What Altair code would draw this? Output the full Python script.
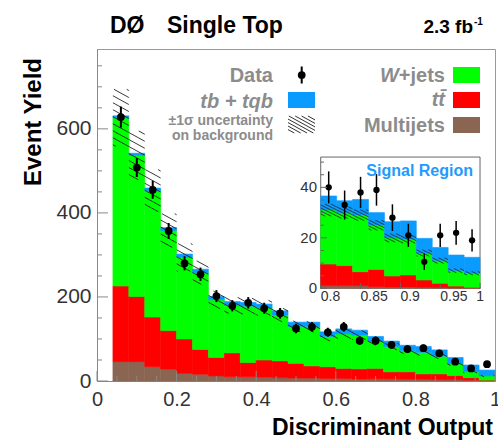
import math
import altair as alt
import pandas as pd

# ---------------- data ----------------
# main histogram: bin edges (discriminant output)
edges = [0.04, 0.08, 0.12, 0.16, 0.20, 0.24, 0.28, 0.32, 0.36, 0.40, 0.44, 0.48, 0.52,
         0.56, 0.60, 0.64, 0.68, 0.72, 0.76, 0.80, 0.84, 0.88, 0.92, 0.96, 1.00]
multijets = [46, 46, 34, 28, 18, 16, 12, 10, 10, 9, 8, 7, 7, 6, 6, 5, 5, 5, 4, 4, 3, 3, 2, 1]
ttbar = [180, 155, 118, 92, 82, 59, 44, 57, 34, 41, 40, 35, 29, 28, 24, 24, 25, 17, 18, 13, 14, 10, 6, 1]
wjets = [400, 336, 301, 238, 194, 183, 137, 113, 134, 124, 109, 88, 93, 72, 82, 80, 64, 60, 50, 51, 42, 28, 14, 10]
signal = [5, 5, 6, 7, 8, 8, 8, 9, 9, 9, 10, 10, 11, 11, 12, 12, 12, 13, 13, 14, 15, 15, 16, 14]
bkg_unc = [68, 58, 50, 40, 33, 28, 21, 19, 19, 18, 16, 13, 13, 11, 11, 11, 9, 8, 7, 7, 6, 4, 3, 2]
data = [628, 508, 455, 357, 280, 254, 202, 179, 186, 173, 161, 125, 129, 116, 129, 96, 96, 86, 76, 78, 66, 46, 30, 40]

# inset: signal region
in_edges = [0.80, 0.82, 0.84, 0.86, 0.88, 0.90, 0.92, 0.94, 0.96, 0.98, 1.00]
in_multijets = [1.0, 1.0, 1.0, 0.6, 0.5, 0.5, 0.4, 0.3, 0.2, 0.2]
in_ttbar = [8.6, 8.0, 5.6, 6.9, 4.4, 4.8, 2.9, 1.7, 0.7, 0.2]
in_wjets = [21.4, 21.0, 22.4, 17.5, 15.1, 14.2, 10.7, 9.0, 6.1, 5.6]
in_signal = [5.6, 4.7, 6.2, 5.0, 6.4, 7.2, 5.8, 5.2, 6.2, 6.3]
in_unc = [2.4, 2.3, 2.2, 2.0, 1.7, 1.6, 1.3, 1.1, 0.8, 0.7]
in_data = [40, 33, 38, 39, 28, 21, 10.5, 21, 22, 19]

components = ["Multijets", "tt̄", "W+jets", "tb+tqb"]
comp_colors = ["#8a6652", "#ff0000", "#00ff00", "#0a9bff"]

x_ticks = [0, 0.2, 0.4, 0.6, 0.8, 1.0]
x_minor = [0.05, 0.1, 0.15, 0.25, 0.3, 0.35, 0.45, 0.5, 0.55, 0.65, 0.7, 0.75, 0.85, 0.9, 0.95]
y_ticks = [0, 200, 400, 600]
y_minor = [50, 100, 150, 250, 300, 350, 450, 500, 550, 650, 700, 750]
in_y_ticks = [0, 20, 40]
in_y_minor = [5, 10, 15, 25, 30, 35, 45, 50]
in_x_ticks = [0.8, 0.85, 0.9, 0.95]
in_x_last = [1.0]

# ---------------- layout ----------------
W, H = 398, 332
Y_MAX = 790
XA, XB = 0.5191, 1.0188      # inset x scale over the full plot width
YA, YB = -36.7, 94.8         # inset y scale over the full plot height
FONT = "Liberation Sans"
GREY = "#8c8c8c"


def stack_df(e, comps):
    rows = []
    for i in range(len(e) - 1):
        base = 0.0
        for name, vals in comps:
            rows.append(dict(lo=e[i], hi=e[i + 1], y0=base, y1=base + vals[i], comp=name))
            base += vals[i]
    return pd.DataFrame(rows)


def hatch_rect(U0, U1, W0, W1, spacing, slope):
    segs = []
    kmin = math.ceil((W0 + slope * U0) / spacing)
    kmax = math.floor((W1 + slope * U1) / spacing)
    for k in range(kmin, kmax + 1):
        c = k * spacing
        ua = max(U0, (c - W1) / slope)
        ub = min(U1, (c - W0) / slope)
        if ub - ua > 0.8:
            segs.append((ua, c - slope * ua, ub, c - slope * ub))
    return segs


def hatch_df(e, bkg, unc, sx, sy, spacing, slope):
    rows = []
    for i in range(len(bkg)):
        for (ua, wa, ub, wb) in hatch_rect(e[i] * sx, e[i + 1] * sx,
                                           (bkg[i] - unc[i]) * sy, (bkg[i] + unc[i]) * sy,
                                           spacing, slope):
            rows.append(dict(x=ua / sx, x2=ub / sx, y=wa / sy, y2=wb / sy))
    return pd.DataFrame(rows)


def points_df(e, d):
    return pd.DataFrame(dict(c=[(e[i] + e[i + 1]) / 2 for i in range(len(d))], v=d,
                             lo=[max(0, v - math.sqrt(v)) for v in d],
                             hi=[v + math.sqrt(v) for v in d]))


def txt(s, x, y, size, weight="bold", style="normal", color=GREY, align="right",
        baseline="middle", angle=None):
    kw = dict(fontSize=size, fontWeight=weight, fontStyle=style, color=color, align=align,
              baseline=baseline, font=FONT)
    if angle is not None:
        kw["angle"] = angle
    return alt.Chart(pd.DataFrame({"t": [s]})).mark_text(**kw).encode(
        x=alt.value(x), y=alt.value(y), text="t:N")


def box(x, x2, y, y2, color):
    return alt.Chart(pd.DataFrame({"a": [0]})).mark_rect(color=color).encode(
        x=alt.value(x), x2=alt.value(x2), y=alt.value(y), y2=alt.value(y2))


def pline(x, y, x2, y2, color="#333", width=1.0):
    return alt.Chart(pd.DataFrame({"a": [0]})).mark_rule(color=color, strokeWidth=width).encode(
        x=alt.value(x), x2=alt.value(x2), y=alt.value(y), y2=alt.value(y2))


comp_scale = alt.Scale(domain=components, range=comp_colors)
color_enc = alt.Color("comp:N", scale=comp_scale, legend=None)
stroke_enc = alt.Stroke("comp:N", scale=comp_scale, legend=None)

# ---------------- main plot ----------------
xs = alt.Scale(domain=[0, 1], nice=False, zero=False)
ys = alt.Scale(domain=[0, Y_MAX], nice=False, zero=False)

main_stack = stack_df(edges, [("Multijets", multijets), ("tt̄", ttbar),
                              ("W+jets", wjets), ("tb+tqb", signal)])
bkg_tot = [multijets[i] + ttbar[i] + wjets[i] for i in range(len(data))]

bars = alt.Chart(main_stack).mark_rect(strokeWidth=0.6).encode(
    x=alt.X("lo:Q", scale=xs, axis=alt.Axis(values=x_ticks, format="~g", ticks=False,
                                             labelFontSize=20, labelColor="#333", labelFont=FONT,
                                             labelPadding=8, labelFlush=False, labelOverlap=False,
                                             domainColor="#888", grid=False, title=None)),
    x2="hi:Q",
    y=alt.Y("y0:Q", scale=ys, axis=alt.Axis(values=y_ticks, ticks=False, labelFontSize=21,
                                             labelColor="#333", labelFont=FONT, labelPadding=6,
                                             labelFlush=False, labelOverlap=False,
                                             domainColor="#888", grid=False, title=None)),
    y2="y1:Q",
    color=color_enc,
    stroke=stroke_enc,
)

hatch_main = alt.Chart(hatch_df(edges, bkg_tot, bkg_unc, W, H / Y_MAX, 7, 0.55)).mark_rule(
    color="#222", strokeWidth=0.9).encode(
    x=alt.X("x:Q", scale=xs), x2="x2:Q", y=alt.Y("y:Q", scale=ys), y2="y2:Q")

pts = points_df(edges, data)
err_main = alt.Chart(pts).mark_rule(color="black", strokeWidth=2).encode(
    x=alt.X("c:Q", scale=xs), y=alt.Y("lo:Q", scale=ys), y2="hi:Q")
dots_main = alt.Chart(pts).mark_circle(color="black", size=60, opacity=1).encode(
    x=alt.X("c:Q", scale=xs), y=alt.Y("v:Q", scale=ys))

yt_major = alt.Chart(pd.DataFrame({"v": y_ticks})).mark_rule(color="#888").encode(
    y=alt.Y("v:Q", scale=ys), x=alt.value(0), x2=alt.value(11))
yt_minor = alt.Chart(pd.DataFrame({"v": y_minor})).mark_rule(color="#888").encode(
    y=alt.Y("v:Q", scale=ys), x=alt.value(0), x2=alt.value(5))
xt_major = alt.Chart(pd.DataFrame({"v": x_ticks})).mark_rule(color="#888").encode(
    x=alt.X("v:Q", scale=xs), y=alt.value(H), y2=alt.value(H - 10))
xt_minor = alt.Chart(pd.DataFrame({"v": x_minor})).mark_rule(color="#888").encode(
    x=alt.X("v:Q", scale=xs), y=alt.value(H), y2=alt.value(H - 5))

# titles
titles = [
    txt("DØ", 13, -16, 23, color="black", align="left", baseline="alphabetic"),
    txt("Single Top", 70, -16, 23, color="black", align="left", baseline="alphabetic"),
    txt("2.3 fb", 376, -16, 19, color="black", align="right", baseline="alphabetic"),
    txt("-1", 377, -24, 10, color="black", align="left", baseline="alphabetic"),
    txt("Discriminant Output", 396, 386, 23, color="black", align="right", baseline="alphabetic"),
    txt("Event Yield", -63, 9, 24, color="black", align="right", baseline="middle", angle=270),
]

# legend
legend = [
    txt("Data", 176, 27, 20),
    pline(204.7, 17.5, 204.7, 34.5, color="black", width=2),
    alt.Chart(pd.DataFrame({"a": [0]})).mark_circle(color="black", size=60, opacity=1).encode(
        x=alt.value(204.7), y=alt.value(26)),
    txt("tb + tqb", 176, 52.5, 20, style="italic"),
    box(191, 218, 43, 59, "#0a9bff"),
    txt("±1σ uncertainty", 176, 72, 14),
    txt("on background", 176, 86.5, 14),
    txt("+jets", 348, 27, 20),
    txt("W", 302, 27, 20, style="italic"),
    box(356, 383, 18, 34, "#00ff00"),
    txt("tt̄", 348, 51, 20, style="italic"),
    box(356, 383, 43, 59, "#ff0000"),
    txt("Multijets", 348, 77, 20),
    box(356, 383, 68, 84, "#8a6652"),
]
for (ua, wa, ub, wb) in hatch_rect(191, 218, -84, -67, 3.5, 0.55):
    legend.append(pline(ua, -wa, ub, -wb, color="#333", width=1))

main = alt.layer(bars, hatch_main, err_main, dots_main, yt_major, yt_minor, xt_major, xt_minor,
                 *titles, *legend)

# ---------------- inset ----------------
xi = alt.Scale(domain=[XA, XB], nice=False, zero=False)
yi = alt.Scale(domain=[YA, YB], nice=False, zero=False)

frame = alt.Chart(pd.DataFrame({"x": [0.8], "x2": [1.0], "y": [0], "y2": [52]})).mark_rect(
    fill="white", stroke="#666", strokeWidth=1).encode(
    x=alt.X("x:Q", scale=xi, axis=None), x2="x2:Q",
    y=alt.Y("y:Q", scale=yi, axis=None), y2="y2:Q")

in_stack = stack_df(in_edges, [("Multijets", in_multijets), ("tt̄", in_ttbar),
                               ("W+jets", in_wjets), ("tb+tqb", in_signal)])
in_bars = alt.Chart(in_stack).mark_rect(strokeWidth=0.6).encode(
    x=alt.X("lo:Q", scale=xi, axis=None), x2="hi:Q",
    y=alt.Y("y0:Q", scale=yi, axis=None), y2="y1:Q", color=color_enc, stroke=stroke_enc)

in_bkg = [in_multijets[i] + in_ttbar[i] + in_wjets[i] for i in range(len(in_data))]
in_hatch = alt.Chart(hatch_df(in_edges, in_bkg, in_unc, W / (XB - XA), H / (YB - YA), 3.0, 0.5)).mark_rule(
    color="#222", strokeWidth=0.8).encode(
    x=alt.X("x:Q", scale=xi, axis=None), x2="x2:Q", y=alt.Y("y:Q", scale=yi, axis=None), y2="y2:Q")

in_pts = points_df(in_edges, in_data)
in_err = alt.Chart(in_pts).mark_rule(color="black", strokeWidth=1.5).encode(
    x=alt.X("c:Q", scale=xi, axis=None), y=alt.Y("lo:Q", scale=yi, axis=None), y2="hi:Q")
in_dots = alt.Chart(in_pts).mark_circle(color="black", size=40, opacity=1).encode(
    x=alt.X("c:Q", scale=xi, axis=None), y=alt.Y("v:Q", scale=yi, axis=None))

in_yt = alt.Chart(pd.DataFrame({"v": in_y_ticks})).mark_rule(color="#666").encode(
    y=alt.Y("v:Q", scale=yi, axis=None), x=alt.value(223.7), x2=alt.value(230))
in_ytm = alt.Chart(pd.DataFrame({"v": in_y_minor})).mark_rule(color="#666").encode(
    y=alt.Y("v:Q", scale=yi, axis=None), x=alt.value(223.7), x2=alt.value(227))
in_xt = alt.Chart(pd.DataFrame({"v": in_x_ticks + in_x_last})).mark_rule(color="#666").encode(
    x=alt.X("v:Q", scale=xi, axis=None), y=alt.value(240), y2=alt.value(234))

in_ylab = alt.Chart(pd.DataFrame({"v": in_y_ticks})).mark_text(
    fontSize=15, font=FONT, color="#333", align="right", baseline="middle").encode(
    y=alt.Y("v:Q", scale=yi, axis=None), x=alt.value(220), text=alt.Text("v:Q", format="~g"))
in_xlab = alt.Chart(pd.DataFrame({"v": in_x_ticks})).mark_text(
    fontSize=14, font=FONT, color="#333", align="left", baseline="middle").encode(
    x=alt.X("v:Q", scale=xi, axis=None), y=alt.value(248), text=alt.Text("v:Q", format="~g"))
in_xlab_end = alt.Chart(pd.DataFrame({"v": in_x_last})).mark_text(
    fontSize=14, font=FONT, color="#333", align="center", baseline="middle").encode(
    x=alt.X("v:Q", scale=xi, axis=None), y=alt.value(248), text=alt.Text("v:Q", format="~g"))

in_title = txt("Signal Region", 376, 127, 16, color="#1e9bff", baseline="alphabetic")

inset = alt.layer(frame, in_bars, in_hatch, in_err, in_dots, in_yt, in_ytm, in_xt,
                  in_ylab, in_xlab, in_xlab_end, in_title)

chart = alt.layer(main, inset).resolve_scale(
    x="independent", y="independent"
).properties(
    width=W, height=H,
    padding={"left": 97, "top": 49, "right": 3, "bottom": 61},
    autosize=alt.AutoSizeParams(type="none"),
).configure_view(stroke="#999", strokeWidth=1)

chart.save("out.html", embed_options={"renderer": "svg", "actions": False})
